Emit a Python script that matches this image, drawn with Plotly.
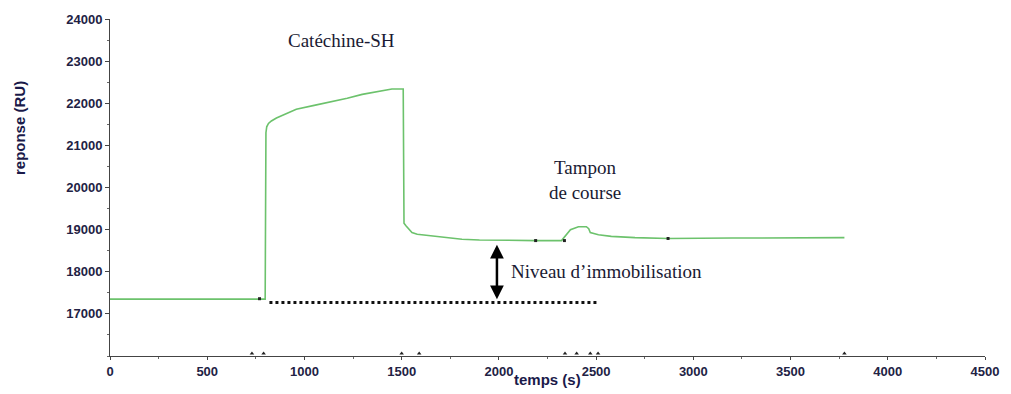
import plotly.graph_objects as go

# Sensorgram: response (RU) versus time (s)
temps = [0, 400, 790, 798, 802, 806, 815, 830, 856, 900, 958, 1050, 1128, 1220, 1297, 1350,
         1400, 1450, 1508, 1512, 1522, 1540, 1553, 1580, 1640, 1720, 1810, 1900, 2065, 2189,
         2322, 2340, 2368, 2409, 2450, 2462, 2470, 2512, 2578, 2700, 2870, 3200, 3500, 3777]
reponse = [17350, 17350, 17350, 17350, 21300, 21440, 21520, 21580, 21650, 21740, 21860, 21950,
           22020, 22120, 22210, 22255, 22300, 22340, 22340, 19150, 19090, 18990, 18930, 18890,
           18860, 18810, 18770, 18755, 18740, 18740, 18740, 18850, 19000, 19070, 19070, 19020,
           18930, 18880, 18840, 18810, 18790, 18800, 18805, 18810]

# Injection markers on the trace
mark_t = [769, 2189, 2337, 2870]
mark_r = [17360, 18740, 18740, 18790]

# Event marks along the time axis
event_t = [730, 790, 1500, 1590, 2340, 2400, 2470, 2510, 3777]

# Axis ticks
x_ticks = list(range(0, 4501, 500))
y_ticks = list(range(17000, 24001, 1000))

# Immobilisation reference
base_start, base_end, base_level = 820, 2512, 17270
arrow_t, arrow_top = 1990, 18640

fig = go.Figure()
fig.add_trace(go.Scatter(x=temps, y=reponse, mode="lines",
                         line=dict(color="#6cc26c", width=1.6), hoverinfo="skip"))
fig.add_trace(go.Scatter(x=mark_t, y=mark_r, mode="markers",
                         marker=dict(symbol="square", size=3, color="#222"), hoverinfo="skip"))
fig.add_trace(go.Scatter(x=event_t, y=[16060] * len(event_t), mode="markers",
                         marker=dict(symbol="triangle-up", size=4, color="#222"),
                         cliponaxis=False, hoverinfo="skip"))
fig.add_trace(go.Scatter(x=[base_start, base_end], y=[base_level, base_level], mode="lines",
                         line=dict(color="#111", width=3, dash="dot"), hoverinfo="skip"))

# Double-headed arrow for the immobilisation level
fig.add_annotation(x=arrow_t, y=arrow_top, ax=arrow_t, ay=base_level + 40,
                   xref="x", yref="y", axref="x", ayref="y", text="",
                   showarrow=True, arrowhead=2, arrowsize=1.1, arrowwidth=2.5,
                   arrowcolor="#000", startarrowhead=2, arrowside="end+start",
                   startarrowsize=1.1)

serif = "Liberation Serif, Times New Roman, serif"
label_font = dict(family=serif, size=19, color="#1a1a33")
fig.add_annotation(x=2050, y=18000, xref="x", yref="y", text="Niveau d’immobilisation",
                   showarrow=False, xanchor="left", font=label_font)
fig.add_annotation(x=1189, y=23490, xref="x", yref="y", text="Catéchine-SH",
                   showarrow=False, font=label_font)
fig.add_annotation(x=2443, y=20470, xref="x", yref="y", text="Tampon",
                   showarrow=False, font=label_font)
fig.add_annotation(x=2443, y=19890, xref="x", yref="y", text="de course",
                   showarrow=False, font=label_font)

sans = "Liberation Sans, Arial, sans-serif"
title_font = dict(family=sans, size=15, color="#1a1a4a")
fig.add_annotation(x=(19 - 110) / 878, y=(356 - 123) / 344, xref="paper", yref="paper",
                   xanchor="center", yanchor="middle", text="<b>reponse (RU)</b>",
                   showarrow=False, textangle=-90, font=title_font)
fig.add_annotation(x=(549 - 110) / 878, y=-(380 - 356) / 344, xref="paper", yref="paper",
                   xanchor="center", yanchor="middle", text="<b>temps (s)</b>",
                   showarrow=False, font=title_font)

tickfont = dict(family=sans, size=13, color="#222244", weight="bold")
fig.update_xaxes(range=[0, 4500], tickvals=x_ticks, ticktext=[str(v) for v in x_ticks],
                 showgrid=False, zeroline=False, showline=True, linecolor="#444", linewidth=1,
                 ticks="outside", ticklen=3, tickcolor="#444", tickfont=tickfont,
                 minor=dict(dtick=250, ticks="outside", ticklen=2, tickcolor="#666"))
fig.update_yaxes(range=[16000, 24000], tickvals=y_ticks, ticktext=[str(v) for v in y_ticks],
                 showgrid=False, zeroline=False, showline=True, linecolor="#444", linewidth=1,
                 ticks="outside", ticklen=4, tickcolor="#444", tickfont=tickfont,
                 minor=dict(dtick=500, ticks="outside", ticklen=2, tickcolor="#666"))
fig.update_layout(width=1011, height=394, showlegend=False,
                  margin=dict(l=110, r=23, t=12, b=38),
                  paper_bgcolor="white", plot_bgcolor="white")
fig.write_html("out.html")
